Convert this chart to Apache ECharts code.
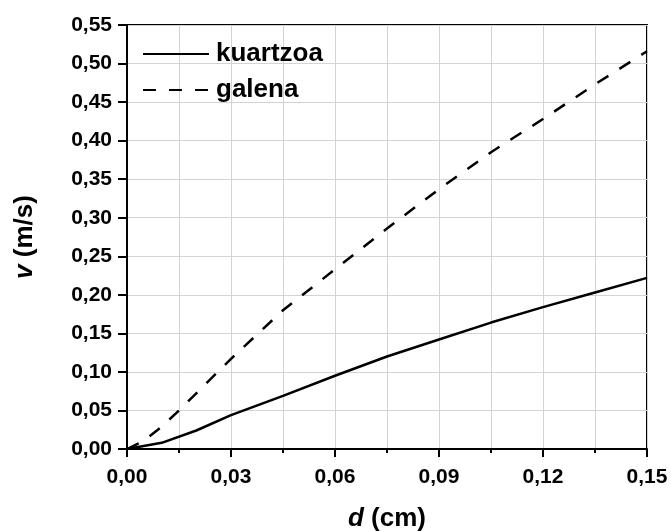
<!DOCTYPE html>
<html>
<head>
<meta charset="utf-8">
<script src="https://cdn.jsdelivr.net/npm/echarts@6/dist/echarts.min.js"></script>
<style>
html,body{margin:0;padding:0;background:#fff;}
#chart{width:671px;height:531px;}
</style>
</head>
<body>
<div id="chart"></div>
<script>
// d (cm) and v (m/s) values
var dKuartzoa = [0, 0.01, 0.02, 0.03, 0.045, 0.06, 0.075, 0.09, 0.105, 0.12, 0.135, 0.15];
var vKuartzoa = [0, 0.008, 0.024, 0.044, 0.069, 0.095, 0.12, 0.142, 0.164, 0.184, 0.203, 0.222];
var dGalena = [0, 0.005, 0.01, 0.015, 0.03, 0.045, 0.06, 0.075, 0.09, 0.105, 0.12, 0.135, 0.15];
var vGalena = [0, 0.011, 0.029, 0.05, 0.117, 0.18, 0.233, 0.286, 0.337, 0.385, 0.428, 0.473, 0.516];
var seriesNames = ['kuartzoa', 'galena'];

function pairs(xs, ys) { return xs.map(function (x, i) { return [x, ys[i]]; }); }
function fmt(v) { return v.toFixed(2).replace('.', ','); }

var FONT = 'Liberation Sans';
var chart = echarts.init(document.getElementById('chart'), null, {renderer: 'canvas'});
chart.setOption({
  animation: false,
  backgroundColor: '#fff',
  grid: {left: 127, right: 24, top: 25, bottom: 82, containLabel: false, outerBoundsMode: 'none',
         show: true, borderColor: '#000', borderWidth: 2, backgroundColor: 'transparent'},
  legend: {
    orient: 'vertical', left: 137, top: 36, padding: 5, itemWidth: 66, itemHeight: 14, itemGap: 10,
    data: seriesNames,
    itemStyle: {opacity: 0, borderWidth: 0},
    textStyle: {fontFamily: FONT, fontWeight: 'bold', fontSize: 26, color: '#000', padding: [0, 0, 0, 2]}
  },
  xAxis: {
    type: 'value', min: 0, max: 0.15, interval: 0.03,
    name: '{i|d} (cm)', nameLocation: 'middle', nameGap: 57,
    nameTextStyle: {fontFamily: FONT, fontWeight: 'bold', fontSize: 26, color: '#000',
      rich: {i: {fontFamily: FONT, fontWeight: 'bold', fontStyle: 'italic', fontSize: 26, color: '#000'}}},
    axisLine: {onZero: false, lineStyle: {color: '#000', width: 2}},
    axisTick: {show: true, inside: false, length: 8, lineStyle: {color: '#000', width: 2}},
    minorTick: {show: true, splitNumber: 2, length: 4, lineStyle: {color: '#000', width: 2}},
    splitLine: {show: true, lineStyle: {color: '#d3d3d3', width: 1}},
    minorSplitLine: {show: true, lineStyle: {color: '#d3d3d3', width: 1}},
    axisLabel: {formatter: fmt, margin: 18, fontFamily: FONT, fontWeight: 'bold', fontSize: 21, color: '#000'}
  },
  yAxis: {
    type: 'value', min: 0, max: 0.55, interval: 0.05,
    name: '{i|v} (m/s)', nameLocation: 'middle', nameGap: 89,
    nameTextStyle: {fontFamily: FONT, fontWeight: 'bold', fontSize: 26, color: '#000',
      rich: {i: {fontFamily: FONT, fontWeight: 'bold', fontStyle: 'italic', fontSize: 26, color: '#000'}}},
    axisLine: {onZero: false, lineStyle: {color: '#000', width: 2}},
    axisTick: {show: true, inside: false, length: 9, lineStyle: {color: '#000', width: 2}},
    splitLine: {show: true, lineStyle: {color: '#d3d3d3', width: 1}},
    axisLabel: {formatter: fmt, margin: 15, fontFamily: FONT, fontWeight: 'bold', fontSize: 21, color: '#000'}
  },
  series: [
    {name: seriesNames[0], type: 'line', data: pairs(dKuartzoa, vKuartzoa), showSymbol: false, symbol: 'none',
     lineStyle: {color: '#000', width: 2.5, type: 'solid'}, itemStyle: {color: '#000'}},
    {name: seriesNames[1], type: 'line', data: pairs(dGalena, vGalena), showSymbol: false, symbol: 'none',
     lineStyle: {color: '#000', width: 2.5, type: [13, 13]}, itemStyle: {color: '#000'}}
  ]
});
</script>
</body>
</html>
